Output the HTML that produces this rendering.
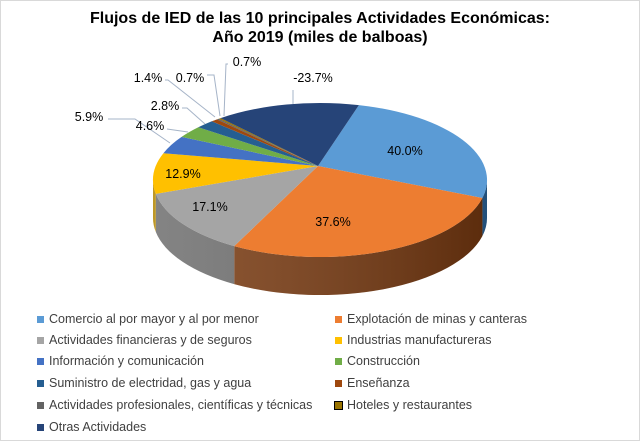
<!DOCTYPE html>
<html><head><meta charset="utf-8"><style>
html,body{margin:0;padding:0;background:#fff;}
#c{width:640px;height:441px;position:relative;overflow:hidden;font-family:"Liberation Sans",sans-serif;}
.lg{position:absolute;font-size:12.5px;color:#404040;white-space:nowrap;}
.lg i{position:absolute;left:-12px;top:4px;width:7px;height:7px;}
</style></head><body><div id="c">
<svg id="s" width="640" height="441" style="position:absolute;left:0;top:0">
<rect x="0.5" y="0.5" width="639" height="440" fill="#fff" stroke="#d9d9d9"/>
<text x="320" y="23" text-anchor="middle" font-size="16" font-weight="bold" fill="#000" font-family="Liberation Sans">Flujos de IED de las 10 principales Actividades Económicas:</text>
<text x="320" y="42" text-anchor="middle" font-size="16" font-weight="bold" fill="#000" font-family="Liberation Sans">Año 2019 (miles de balboas)</text>
</svg>
<div class="lg" style="left:49px;top:312px"><i style="background:#5B9BD5"></i>Comercio al por mayor y al por menor</div>
<div class="lg" style="left:347px;top:312px"><i style="background:#ED7D31"></i>Explotación de minas y canteras</div>
<div class="lg" style="left:49px;top:333px"><i style="background:#A5A5A5"></i>Actividades financieras y de seguros</div>
<div class="lg" style="left:347px;top:333px"><i style="background:#FFC000"></i>Industrias manufactureras</div>
<div class="lg" style="left:49px;top:354px"><i style="background:#4472C4"></i>Información y comunicación</div>
<div class="lg" style="left:347px;top:354px"><i style="background:#70AD47"></i>Construcción</div>
<div class="lg" style="left:49px;top:376px"><i style="background:#255E91"></i>Suministro de electridad, gas y agua</div>
<div class="lg" style="left:347px;top:376px"><i style="background:#9E480E"></i>Enseñanza</div>
<div class="lg" style="left:49px;top:398px"><i style="background:#636363"></i>Actividades profesionales, científicas y técnicas</div>
<div class="lg" style="left:347px;top:398px"><i style="background:#997300;outline:1px solid #000"></i>Hoteles y restaurantes</div>
<div class="lg" style="left:49px;top:420px"><i style="background:#264478"></i>Otras Actividades</div>
</div>
<script>
var cx=320,cy=180,rx=167,ry=77,D=38,ax=318,ay=166;
function T(x,y){return Math.atan2((y-cy)/ry,(x-cx)/rx);}
var pts=[[360,103],[482,198],[233,247],[155,194],[162,153],[182,137],[200,128],[213,122],[218,120],[220,119.5],[222,119]];
var a=pts.map(p=>T(p[0],p[1]));
for(var i=1;i<a.length;i++){while(a[i]<a[i-1])a[i]+=2*Math.PI;}
a.push(a[0]+2*Math.PI);
var cols=['#5B9BD5','#ED7D31','#A5A5A5','#FFC000','#4472C4','#70AD47','#255E91','#9E480E','#636363','#997300','#264478'];
var side=['#2e6aa3','#7a3a10','#6e6e6e','#b38600','#2d4f8c','#4a7a2d','#173f63','#6b300a','#444','#6b5000','#18305a'];
function P(t,dy){return (cx+rx*Math.cos(t)).toFixed(1)+','+(cy+ry*Math.sin(t)+(dy||0)).toFixed(1);}
var s=document.getElementById('s'),h='';
h+='<defs><linearGradient id="sh" x1="0" x2="1"><stop offset="0" stop-color="#fff" stop-opacity="0.15"/><stop offset="1" stop-color="#000" stop-opacity="0.25"/></linearGradient></defs>';
for(var i=0;i<11;i++){
 for(var k=0;k<2;k++){
  var lo=Math.max(a[i],k*2*Math.PI),hi=Math.min(a[i+1],Math.PI+k*2*Math.PI);
  if(hi<=lo)continue;
  var d='M'+P(lo)+' A'+rx+','+ry+' 0 0,1 '+P(hi)+' L'+P(hi,D)+' A'+rx+','+ry+' 0 0,0 '+P(lo,D)+' Z';
  h+='<path d="'+d+'" fill="'+side[i]+'"/>';
 }
}
h+='<path d="M'+P(0)+' A'+rx+','+ry+' 0 0,1 '+P(Math.PI)+' L'+P(Math.PI,D)+' A'+rx+','+ry+' 0 0,0 '+P(0,D)+' Z" fill="url(#sh)"/>';
for(var i=0;i<11;i++){
 var lg=(a[i+1]-a[i])>Math.PI?1:0;
 h+='<path d="M'+ax+','+ay+' L'+P(a[i])+' A'+rx+','+ry+' 0 '+lg+',1 '+P(a[i+1])+' Z" fill="'+cols[i]+'"/>';
}
var L=[['40.0%',405,155,0],['37.6%',333,226,0],['17.1%',210,211,0],['12.9%',183,178,0],
['5.9%',89,121,[[108,119],[135,119],[170,143]]],['4.6%',150,130,[[167,129],[188,132]]],
['2.8%',165,110,[[182,108],[187,108],[205,124]]],['1.4%',148,82,[[165,80],[168,80],[215,117]]],
['0.7%',190,82,[[207,75],[214,75],[220,116]]],['0.7%',247,66,[[228,64],[226,64],[224,116]]],['-23.7%',313,82,[[293,90],[293,104]]]];
L.forEach(function(l){
 if(l[3]){var pp=l[3].map(p=>p.join(',')).join(' ');h+='<polyline points="'+pp+'" fill="none" stroke="#a6b4c8" stroke-width="1"/>';}
 h+='<text x="'+l[1]+'" y="'+l[2]+'" text-anchor="middle" font-size="12.5" fill="#000" font-family="Liberation Sans">'+l[0]+'</text>';
});
s.insertAdjacentHTML('beforeend',h);
</script>
</body></html>
